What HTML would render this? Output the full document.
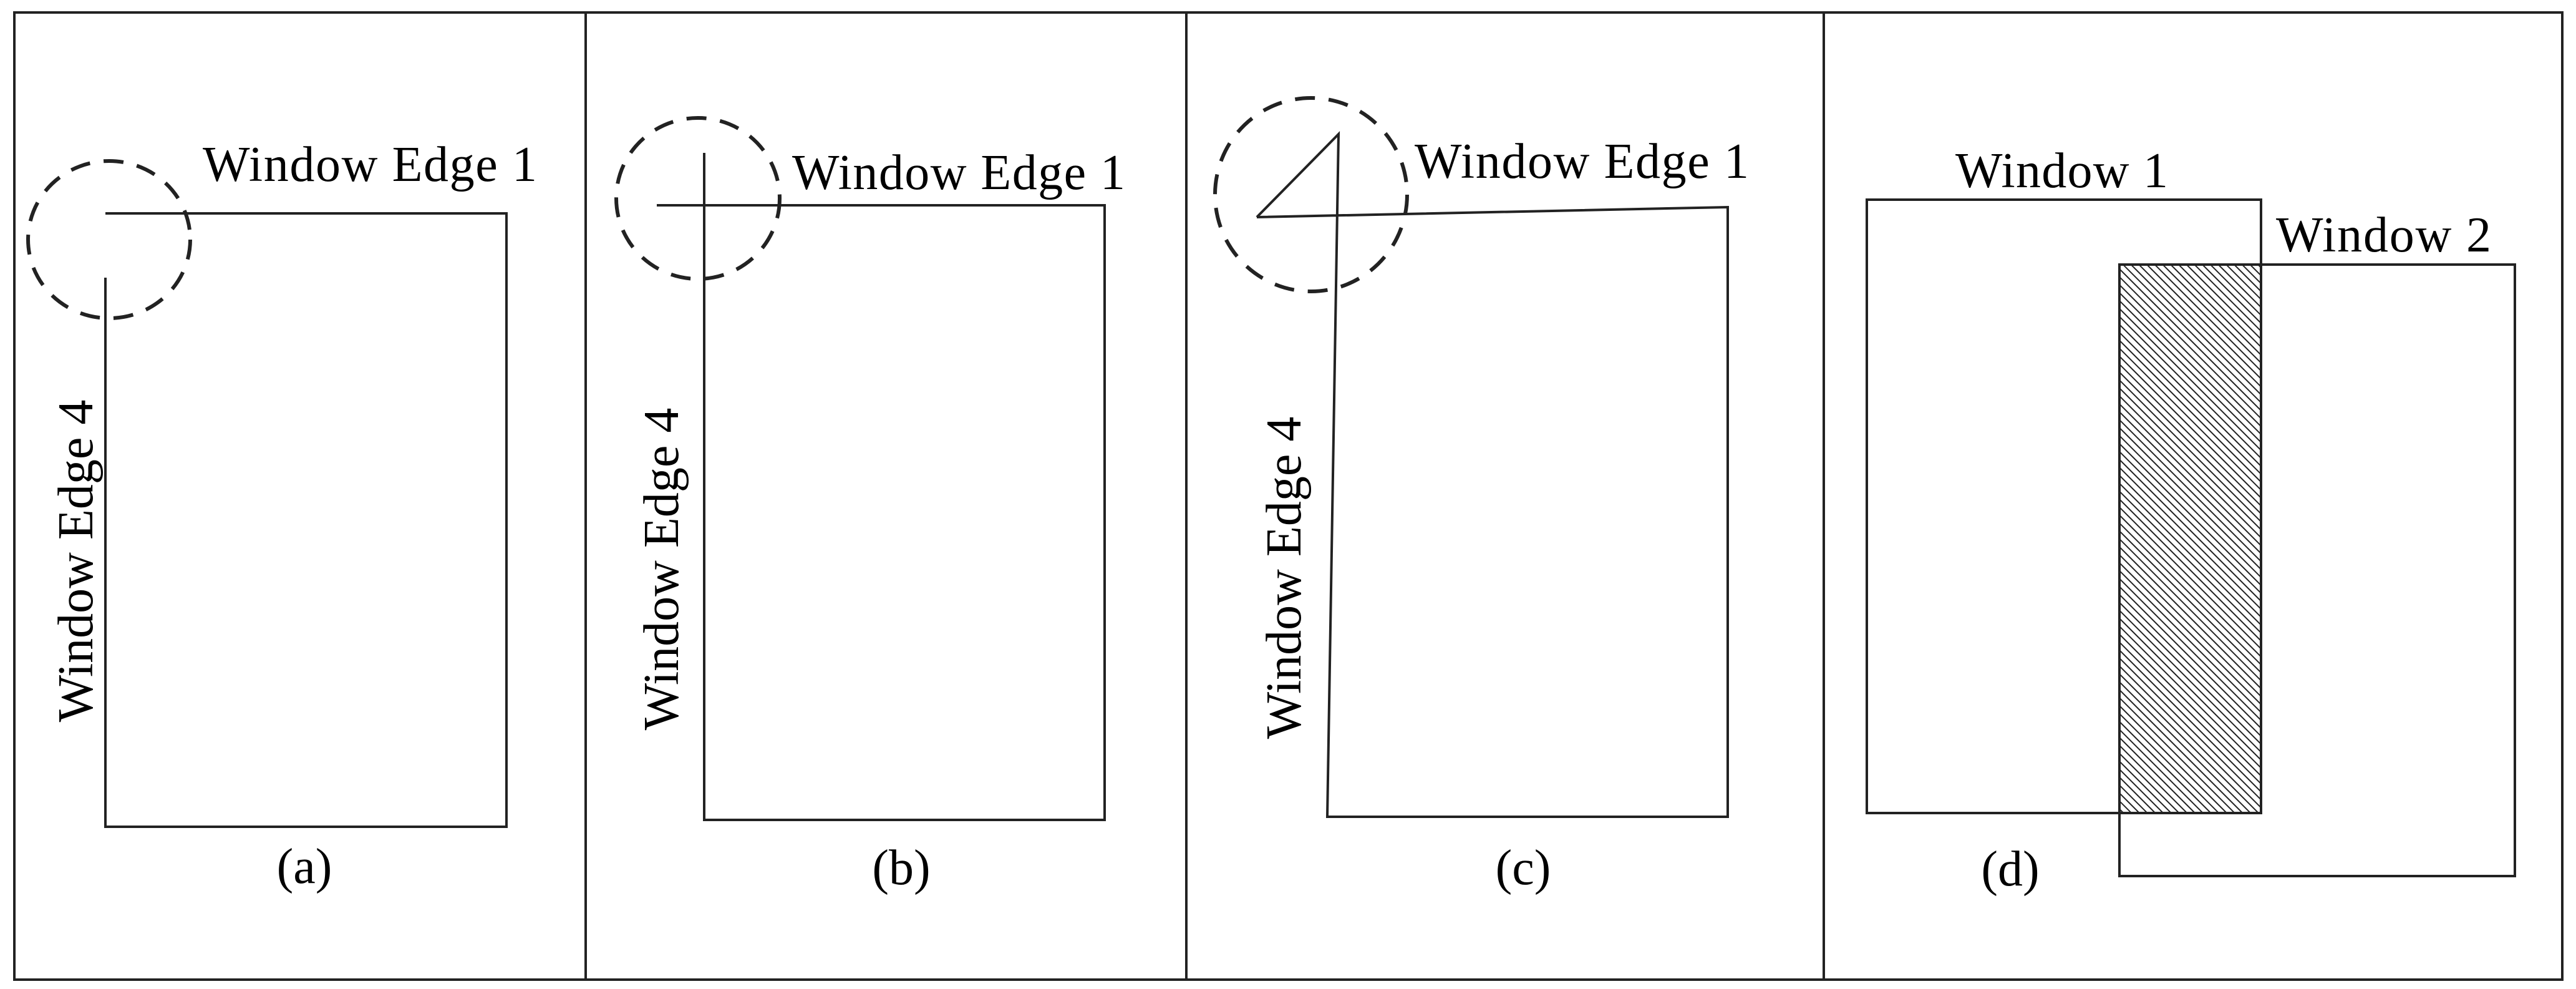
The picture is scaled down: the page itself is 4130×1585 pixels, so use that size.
<!DOCTYPE html>
<html><head><meta charset="utf-8"><style>html,body{margin:0;padding:0;background:#fff}svg{display:block}</style></head>
<body>
<svg width="4130" height="1585" viewBox="0 0 4130 1585" xmlns="http://www.w3.org/2000/svg">
<defs>
<pattern id="hatch" patternUnits="userSpaceOnUse" width="9" height="9" patternTransform="rotate(-45)">
<rect width="9" height="9" fill="#fff"/>
<line x1="0" y1="0" x2="0" y2="9" stroke="#222" stroke-width="4"/>
</pattern>
</defs>
<g fill="none" stroke="#222" stroke-width="4">
<rect x="23" y="20" width="4085" height="1550"/>
<line x1="939" y1="20" x2="939" y2="1570"/>
<line x1="1902" y1="20" x2="1902" y2="1570"/>
<line x1="2924" y1="20" x2="2924" y2="1570"/>
<polyline points="169,342 812,342 812,1325 169,1325 169,445"/>
<ellipse cx="175" cy="384" rx="130" ry="126" stroke-width="6" stroke-dasharray="32,22"/>
<polyline points="1053,329 1771,329 1771,1314 1129,1314 1129,245"/>
<ellipse cx="1119" cy="318" rx="131" ry="129" stroke-width="6" stroke-dasharray="32,22"/>
<polyline points="2015,348 2770,332 2770,1309 2128,1309 2146,215 2015,348"/>
<ellipse cx="2102" cy="312" rx="154" ry="155" stroke-width="6" stroke-dasharray="32,22"/>
<rect x="3398" y="424" width="227" height="879" fill="url(#hatch)"/>
<rect x="2993" y="320" width="632" height="983"/>
<rect x="3398" y="424" width="634" height="980"/>
</g>
<g font-family="'Liberation Serif', serif" font-size="80" fill="#000">
<text x="325" y="290" textLength="536" lengthAdjust="spacing">Window Edge 1</text>
<text x="148" y="899" text-anchor="middle" transform="rotate(-90 148 899)">Window Edge 4</text>
<text x="488" y="1415" text-anchor="middle">(a)</text>
<text x="1270" y="303" textLength="534" lengthAdjust="spacing">Window Edge 1</text>
<text x="1087" y="912" text-anchor="middle" transform="rotate(-90 1087 912)">Window Edge 4</text>
<text x="1445" y="1417" text-anchor="middle">(b)</text>
<text x="2268" y="285" textLength="536" lengthAdjust="spacing">Window Edge 1</text>
<text x="2085" y="926" text-anchor="middle" transform="rotate(-90 2085 926)">Window Edge 4</text>
<text x="2442" y="1417" text-anchor="middle">(c)</text>
<text x="3135" y="300" textLength="341" lengthAdjust="spacing">Window 1</text>
<text x="3649" y="403" textLength="345" lengthAdjust="spacing">Window 2</text>
<text x="3223" y="1419" text-anchor="middle">(d)</text>
</g>
</svg>
</body></html>
